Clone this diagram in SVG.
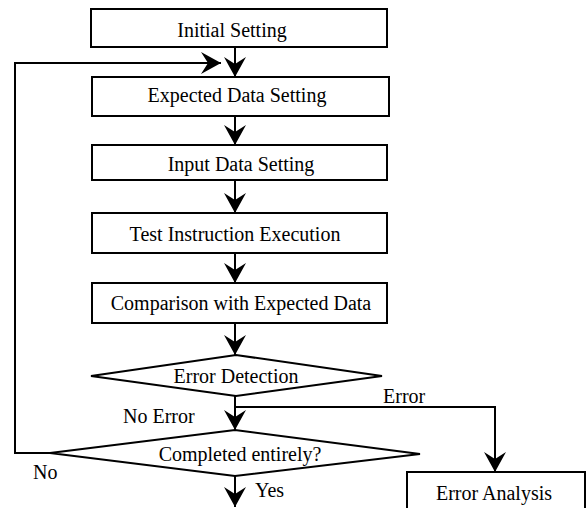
<svg xmlns="http://www.w3.org/2000/svg" width="588" height="508" viewBox="0 0 588 508">
<style>
.box{fill:#fff;stroke:#000;stroke-width:2}
.t{font-family:"Liberation Serif","Times New Roman",serif;font-size:20px;fill:#000;text-anchor:middle}
.l{font-family:"Liberation Serif","Times New Roman",serif;font-size:20px;fill:#000}
.c{fill:none;stroke:#000;stroke-width:2}
</style>
<defs>
<marker id="ah" viewBox="-21 -12 22 24" refX="0" refY="0" markerWidth="22" markerHeight="24" markerUnits="userSpaceOnUse" orient="auto">
<path d="M0,0 L-20,-11 L-13,0 L-20,11 Z" fill="#000"/>
</marker>
</defs>
<rect width="588" height="508" fill="#fff"/>
<g id="connectors">
<path class="c" d="M235,47 V77" marker-end="url(#ah)"/>
<path class="c" d="M50,453 H15 V63 H221" marker-end="url(#ah)"/>
<path class="c" d="M235,116 V145" marker-end="url(#ah)"/>
<path class="c" d="M235,180 V213" marker-end="url(#ah)"/>
<path class="c" d="M235,253 V283" marker-end="url(#ah)"/>
<path class="c" d="M235,323 V355" marker-end="url(#ah)"/>
<path class="c" d="M235,396 V430" marker-end="url(#ah)"/>
<path class="c" d="M235,407 H495 V472" marker-end="url(#ah)"/>
<path class="c" d="M235,476 V507" marker-end="url(#ah)"/>
</g>
<g id="labels">
<text class="l" x="383" y="403">Error</text>
<text class="l" x="123" y="423">No Error</text>
<text class="l" x="33" y="479">No</text>
<text class="l" x="255" y="497">Yes</text>
</g>
<g id="initial-setting">
<rect class="box" x="91" y="9" width="296" height="38"/>
<text class="t" x="232" y="37">Initial Setting</text>
</g>
<g id="expected-data-setting">
<rect class="box" x="92" y="77" width="297" height="39"/>
<text class="t" x="237" y="102">Expected Data Setting</text>
</g>
<g id="input-data-setting">
<rect class="box" x="92" y="145" width="295" height="35"/>
<text class="t" x="241" y="171">Input Data Setting</text>
</g>
<g id="test-instruction-execution">
<rect class="box" x="92" y="213" width="295" height="40"/>
<text class="t" x="235" y="241">Test Instruction Execution</text>
</g>
<g id="comparison">
<rect class="box" x="92" y="283" width="295" height="40"/>
<text class="t" x="241" y="310">Comparison with Expected Data</text>
</g>
<g id="error-detection">
<polygon class="box" points="91,376 236,355 382,376 236,396"/>
<text class="t" x="236" y="383">Error Detection</text>
</g>
<g id="completed-entirely">
<polygon class="box" points="50,453 235,430 420,454 235,476"/>
<text class="t" x="240" y="461">Completed entirely?</text>
</g>
<g id="error-analysis">
<rect class="box" x="407" y="472" width="178" height="50"/>
<text class="t" x="494" y="500">Error Analysis</text>
</g>
</svg>
